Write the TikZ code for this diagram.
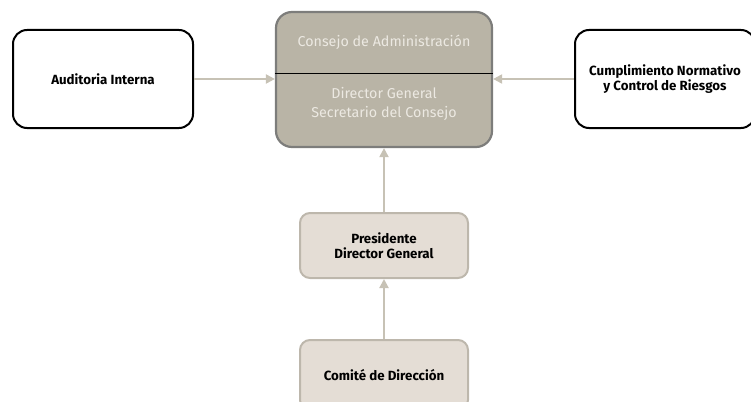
\documentclass[tikz,border=0pt]{standalone}
\usepackage{fontspec}
\setmainfont{Fira Sans}
\newfontfamily\bfont{Fira Sans}
\usetikzlibrary{arrows.meta}
\definecolor{bigfill}{HTML}{B9B4A6}
\definecolor{bigborder}{HTML}{7D7D7B}
\definecolor{bigtext}{HTML}{ECE9E2}
\definecolor{lightfill}{HTML}{E4DDD5}
\definecolor{lightborder}{HTML}{BDB7AC}
\definecolor{arrowcol}{HTML}{C7C2B5}
\begin{document}
\begin{tikzpicture}[x=1pt,y=-1pt,
  whitebox/.style={draw=black,line width=2pt,rounded corners=14pt,fill=white,minimum width=180pt,minimum height=98pt,align=center,font=\bfont\bfseries\fontsize{13.3}{15}\selectfont},
  lightbox/.style={draw=lightborder,line width=2pt,rounded corners=10pt,fill=lightfill,minimum width=168pt,minimum height=65pt,align=center,font=\bfont\bfseries\fontsize{13.3}{15}\selectfont},
  conn/.style={draw=arrowcol,line width=2pt,-{Triangle[length=9pt,width=9pt]}}]
\useasboundingbox (0,0) rectangle (751,401);
% big box
\node[draw=bigborder,line width=2.2pt,rounded corners=16pt,fill=bigfill,minimum width=216pt,minimum height=135pt] (top) at (384,79.5) {};
\draw[black,line width=1pt] (top.west |- 0,74) -- (top.east |- 0,74);
\node[text=bigtext,font=\fontsize{14.3}{18}\selectfont] (t1) at (384,42) {Consejo de Administración};
\node[text=bigtext,font=\fontsize{14.3}{18.5}\selectfont,align=center] (t2) at (384,104) {Director General\\Secretario del Consejo};
% side boxes
\node[whitebox] (ai) at (103,79) {Auditoria Interna};
\node[whitebox] (cn) at (665,79) {Cumplimiento Normativo\\y Control de Riesgos};
% middle boxes
\node[lightbox] (pd) at (384,245.5) {Presidente\\Director General};
\node[lightbox,minimum height=70pt] (cd) at (384,375) {Comité de Dirección};
% connectors
\draw[conn] (ai.east) -- (top.west |- ai.east);
\draw[conn] (cn.west) -- (top.east |- cn.west);
\draw[conn] (pd.north) -- (top.south -| pd.north);
\draw[conn] (cd.north) -- (pd.south);
\end{tikzpicture}
\end{document}
